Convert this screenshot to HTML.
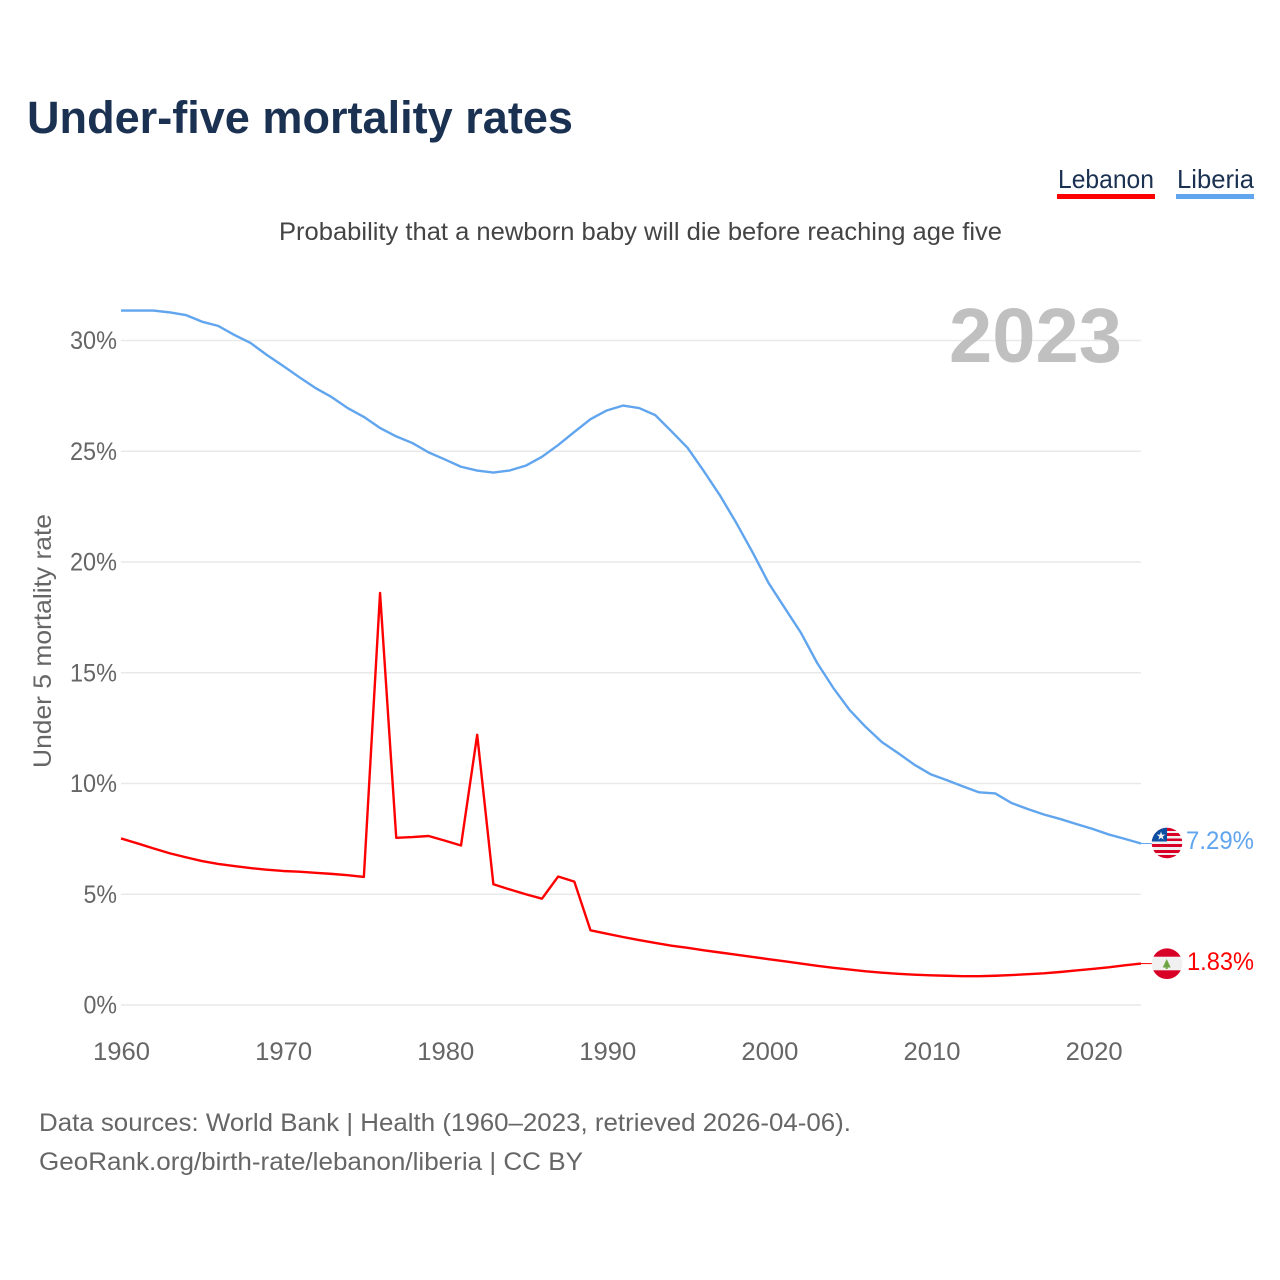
<!DOCTYPE html>
<html lang="en">
<head>
<meta charset="utf-8">
<title>Under-five mortality rates</title>
<style>
html,body{margin:0;padding:0;background:#fff;width:1280px;height:1280px;overflow:hidden}
svg{display:block;font-family:"Liberation Sans",sans-serif}
</style>
</head>
<body>
<svg id="chart" xmlns="http://www.w3.org/2000/svg" width="1280" height="1280" viewBox="0 0 1280 1280">
  <defs>
    <clipPath id="flag-clip-liberia"><circle cx="1167" cy="843" r="15.3"/></clipPath>
    <clipPath id="flag-clip-lebanon"><circle cx="1167" cy="963.7" r="15.3"/></clipPath>
  </defs>
  <text x="27" y="133" font-size="45" font-weight="700" fill="#1a3152" textLength="546" lengthAdjust="spacingAndGlyphs">Under-five mortality rates</text>

  <g>
    <g>
      <text x="1058" y="188" font-size="26" fill="#1a3152" textLength="96" lengthAdjust="spacingAndGlyphs">Lebanon</text>
      <rect x="1057" y="194" width="98" height="5" fill="#ff0000"/>
    </g>
    <g>
      <text x="1177" y="188" font-size="26" fill="#1a3152" textLength="77" lengthAdjust="spacingAndGlyphs">Liberia</text>
      <rect x="1176" y="194" width="78" height="5" fill="#60a5ee"/>
    </g>
  </g>

  <text x="279" y="240" font-size="25" fill="#444" textLength="723" lengthAdjust="spacingAndGlyphs">Probability that a newborn baby will die before reaching age five</text>

  <g id="grid"></g>
  <g id="y-ticks"></g>
  <g id="x-ticks"></g>

  <text x="949" y="362" font-size="77" font-weight="700" fill="#c0c0c0" textLength="173" lengthAdjust="spacingAndGlyphs">2023</text>

  <text transform="translate(51,768) rotate(-90)" font-size="25" fill="#666" textLength="254" lengthAdjust="spacingAndGlyphs">Under 5 mortality rate</text>

  <g id="series"></g>

  <g clip-path="url(#flag-clip-liberia)">
    <rect x="1151" y="827" width="32" height="32" fill="#f0f0f0"/>
    <rect x="1151" y="827" width="32" height="4" fill="#d80027"/>
    <rect x="1151" y="833" width="32" height="3" fill="#d80027"/>
    <rect x="1151" y="838.5" width="32" height="2.5" fill="#d80027"/>
    <rect x="1151" y="844" width="32" height="3" fill="#d80027"/>
    <rect x="1151" y="850" width="32" height="3" fill="#d80027"/>
    <rect x="1151" y="855" width="32" height="4" fill="#d80027"/>
    <rect x="1151" y="827" width="16" height="14.5" fill="#0b4ea2"/>
    <polygon points="1161,831.5 1162.1,834.6 1165.3,834.6 1162.7,836.6 1163.6,839.8 1161,837.8 1158.4,839.8 1159.3,836.6 1156.7,834.6 1159.9,834.6" fill="#f0f0f0"/>
  </g>
  <text x="1186" y="849" font-size="25" fill="#60a5ee" textLength="68" lengthAdjust="spacingAndGlyphs">7.29%</text>

  <g clip-path="url(#flag-clip-lebanon)">
    <rect x="1151" y="948" width="32" height="32" fill="#f0f0f0"/>
    <rect x="1151" y="948" width="32" height="8.7" fill="#d80027"/>
    <rect x="1151" y="970.3" width="32" height="10" fill="#d80027"/>
    <polygon points="1166.7,959 1170.7,967.5 1167.7,967.5 1167.7,969 1165.7,969 1165.7,967.5 1162.7,967.5" fill="#6da544"/>
  </g>
  <text x="1187" y="970" font-size="25" fill="#ff0000" textLength="67" lengthAdjust="spacingAndGlyphs">1.83%</text>

  <text x="39" y="1131" font-size="25" fill="#666" textLength="812" lengthAdjust="spacingAndGlyphs">Data sources: World Bank | Health (1960–2023, retrieved 2026-04-06).</text>
  <text x="39" y="1170" font-size="25" fill="#666" textLength="544" lengthAdjust="spacingAndGlyphs">GeoRank.org/birth-rate/lebanon/liberia | CC BY</text>
</svg>
<script>
const startYear = 1960;
const endYear = 2023;
const yTickValues = [0, 5, 10, 15, 20, 25, 30];
const yTickLabels = ["0%", "5%", "10%", "15%", "20%", "25%", "30%"];
const xTickValues = [1960, 1970, 1980, 1990, 2000, 2010, 2020];
const xTickLabels = ["1960", "1970", "1980", "1990", "2000", "2010", "2020"];
const liberiaValues = [31.35,31.35,31.35,31.27,31.15,30.85,30.66,30.25,29.89,29.35,28.86,28.35,27.86,27.45,26.95,26.55,26.05,25.67,25.37,24.95,24.63,24.3,24.13,24.04,24.13,24.35,24.75,25.28,25.87,26.45,26.84,27.06,26.95,26.63,25.9,25.15,24.1,23.0,21.77,20.45,19.05,17.92,16.8,15.44,14.31,13.32,12.55,11.87,11.37,10.85,10.42,10.15,9.87,9.6,9.55,9.12,8.85,8.6,8.4,8.17,7.95,7.7,7.5,7.29];
const lebanonValues = [7.52,7.3,7.07,6.85,6.67,6.5,6.37,6.27,6.18,6.11,6.05,6.02,5.97,5.92,5.86,5.78,18.6,7.55,7.58,7.63,7.42,7.2,12.2,5.45,5.22,5.0,4.8,5.8,5.57,3.37,3.22,3.07,2.93,2.8,2.68,2.58,2.47,2.37,2.27,2.17,2.07,1.97,1.87,1.77,1.68,1.6,1.52,1.46,1.41,1.37,1.34,1.32,1.3,1.3,1.32,1.35,1.39,1.43,1.49,1.56,1.63,1.7,1.79,1.87];

const NS = "http://www.w3.org/2000/svg";
function xScale(year) { return 121 + (year - startYear) * (1141 - 121) / (endYear - startYear); }
function yScale(v) { return 1005 - v * (1005 - 340.5) / 30; }
function make(tag, attrs, parent) {
  const el = document.createElementNS(NS, tag);
  for (const k in attrs) el.setAttribute(k, attrs[k]);
  parent.appendChild(el);
  return el;
}
const grid = document.getElementById("grid");
const yTicks = document.getElementById("y-ticks");
const xTicks = document.getElementById("x-ticks");
const seriesGroup = document.getElementById("series");

yTickValues.forEach(function (v, i) {
  const line = make("line", { x1: 121, x2: 1141, y1: yScale(v), y2: yScale(v), stroke: "#e9e9e9", "stroke-width": 1.5 }, grid);
  
  
  const t = make("text", { x: 117, y: yScale(v) + 8.5, "text-anchor": "end", "font-size": 25, fill: "#666", textLength: (yTickLabels[i].length - 1) * 13.5 + 20, lengthAdjust: "spacingAndGlyphs" }, yTicks);
  
  
  t.textContent = yTickLabels[i];
});
xTickValues.forEach(function (v, i) {
  const t = make("text", { x: xScale(v) + 0.5 + (v - startYear) / 50, y: 1060, "text-anchor": "middle", "font-size": 25, fill: "#666", textLength: 57, lengthAdjust: "spacingAndGlyphs" }, xTicks);
  
  
  t.textContent = xTickLabels[i];
});
function drawSeries(values, color) {
  const pts = values.map(function (v, i) { return xScale(startYear + i).toFixed(2) + "," + yScale(v).toFixed(2); });
  return make("polyline", { points: pts.join(" "), fill: "none", stroke: color, "stroke-width": 2.4, "stroke-linejoin": "round" }, seriesGroup);
}
const liberiaLine = drawSeries(liberiaValues, "#60a5ee");


const lebanonLine = drawSeries(lebanonValues, "#ff0000");


function drawLeader(values, color) {
  const y = yScale(values[values.length - 1]);
  return make("line", { x1: 1141, x2: 1152, y1: y, y2: y, stroke: color, "stroke-width": 1 }, seriesGroup);
}
const liberiaLeader = drawLeader(liberiaValues, "#60a5ee");


const lebanonLeader = drawLeader(lebanonValues, "#ff0000");


</script>
</body>
</html>
